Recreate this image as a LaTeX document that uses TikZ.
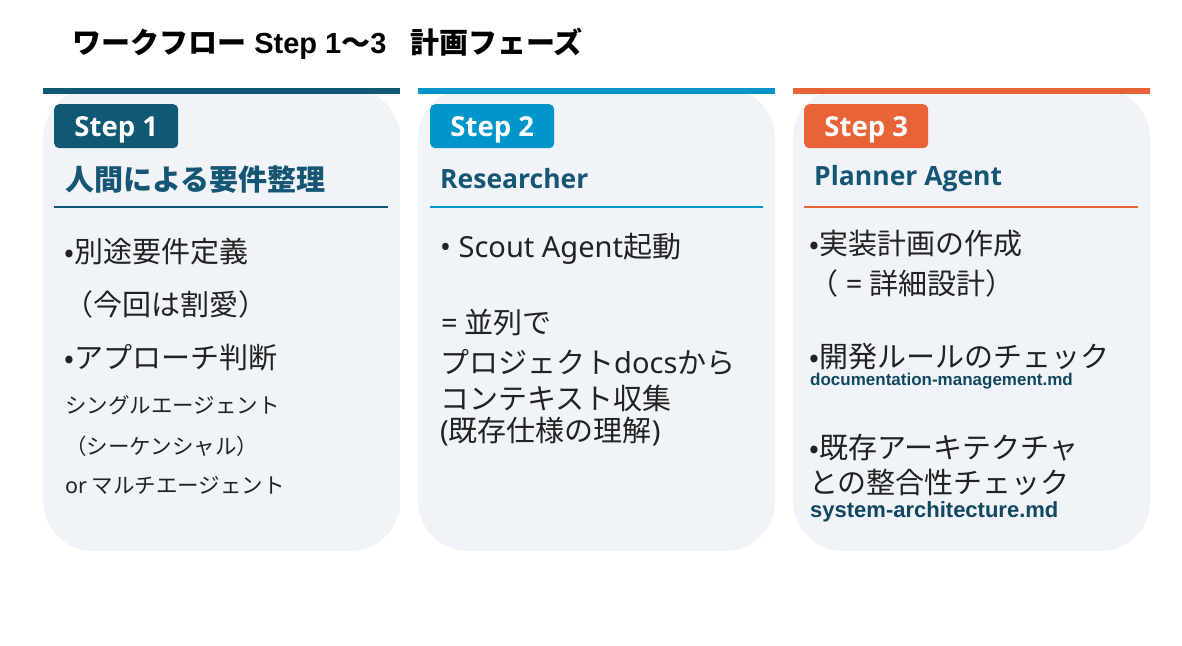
\documentclass[tikz,border=0pt]{standalone}
\usepackage{fontspec}
\newfontfamily\jp{Noto Sans CJK JP}
\newfontfamily\lat{Noto Sans}
\newfontfamily\latb{Open Sans}
\newfontfamily\ari{Liberation Sans}
\definecolor{cA}{RGB}{16,88,116}
\definecolor{cB}{RGB}{0,150,204}
\definecolor{cC}{RGB}{232,100,56}
\definecolor{pfill}{RGB}{240,244,248}
\definecolor{txt}{RGB}{34,34,34}
\definecolor{head}{RGB}{21,86,117}
\definecolor{fname}{RGB}{16,72,96}
\tikzset{
  panel/.style={fill=pfill, rounded corners=50pt, minimum width=357pt, minimum height=463pt, anchor=north west, inner sep=0pt},
  topbar/.style={minimum width=357pt, minimum height=6pt, anchor=north west, inner sep=0pt},
  badge/.style={rounded corners=5pt, minimum width=124pt, minimum height=44pt, anchor=north west, inner sep=0pt, text depth=0pt, text=white, font=\latb\bfseries\fontsize{27.5}{30}\selectfont},
  heading/.style={anchor=west, inner sep=0pt, text=head},
  body/.style={anchor=west, inner sep=0pt, text=txt, font=\jp\fontsize{29}{34}\selectfont},
  small/.style={anchor=west, inner sep=0pt, text=txt, font=\jp\fontsize{21.5}{25}\selectfont},
  file/.style={anchor=west, inner sep=0pt, text=fname},
}
\begin{document}
\begin{tikzpicture}[x=1pt,y=-1pt]
\useasboundingbox (0,0) rectangle (1182,645);
% title
\node[anchor=west, inner sep=0pt, text=black] (title) at (72,44) {\jp\bfseries\fontsize{29}{32}\selectfont ワークフロー{\ari\bfseries\ Step 1}〜{\ari\bfseries 3}\hspace{24pt}計画フェーズ};
% panels
\node[panel] (p1) at (43,88) {};
\node[panel] (p2) at (418,88) {};
\node[panel] (p3) at (793,88) {};
\node[topbar, fill=cA] (b1) at (43,88) {};
\node[topbar, fill=cB] (b2) at (418,88) {};
\node[topbar, fill=cC] (b3) at (793,88) {};
% badges
\node[badge, fill=cA] (s1) at (54,104) {Step 1};
\node[badge, fill=cB] (s2) at (430,104) {Step 2};
\node[badge, fill=cC] (s3) at (804,104) {Step 3};
% headings
\node[heading, font=\jp\bfseries\fontsize{29}{32}\selectfont] (h1) at (65,180) {人間による要件整理};
\node[heading, font=\latb\bfseries\fontsize{26.5}{32}\selectfont] (h2) at (440,179) {Researcher};
\node[heading, font=\latb\bfseries\fontsize{26.5}{32}\selectfont] (h3) at (814,179) {Planner Agent};
% underlines
\coordinate (u1a) at (54,207); \coordinate (u1b) at (388,207);
\coordinate (u2a) at (430,207); \coordinate (u2b) at (763,207);
\coordinate (u3a) at (804,207); \coordinate (u3b) at (1138,207);
\draw[cA, line width=2pt] (u1a) -- (u1b);
\draw[cB, line width=2pt] (u2a) -- (u2b);
\draw[cC, line width=2pt] (u3a) -- (u3b);
% panel 1 body
\node[body] (t11) at (64,252) {•別途要件定義};
\node[body] (t12) at (64,304) {（今回は割愛）};
\node[body] (t13) at (64,358) {•アプローチ判断};
\node[small] (t14) at (65,405) {シングルエージェント};
\node[small] (t15) at (65,446) {（シーケンシャル）};
\node[small] (t16) at (65,485) {{\lat or} マルチエージェント};
% panel 2 body
\node[body] (t21) at (440,249) {{\lat • Scout Agent}起動};
\node[body] (t22) at (441,323) {{\lat =} 並列で};
\node[body] (t23) at (440,362) {プロジェクト{\lat docs}から};
\node[body] (t24) at (440,398) {コンテキスト収集};
\node[body] (t25) at (440,432) {{\lat (}既存仕様の理解{\lat )}};
% panel 3 body
\node[body] (t31) at (809,244) {•実装計画の作成};
\node[body] (t32) at (809,283) {（{\lat\ =\ }詳細設計）};
\node[body] (t33) at (809,357) {•開発ルールのチェック};
\node[file, font=\ari\bfseries\fontsize{17}{20}\selectfont] (f1) at (810,381) {documentation-management.md};
\node[body] (t34) at (809,448) {•既存アーキテクチャ};
\node[body] (t35) at (809,482) {との整合性チェック};
\node[file, font=\ari\bfseries\fontsize{22}{24}\selectfont] (f2) at (810,512) {system-architecture.md};
\end{tikzpicture}
\end{document}
